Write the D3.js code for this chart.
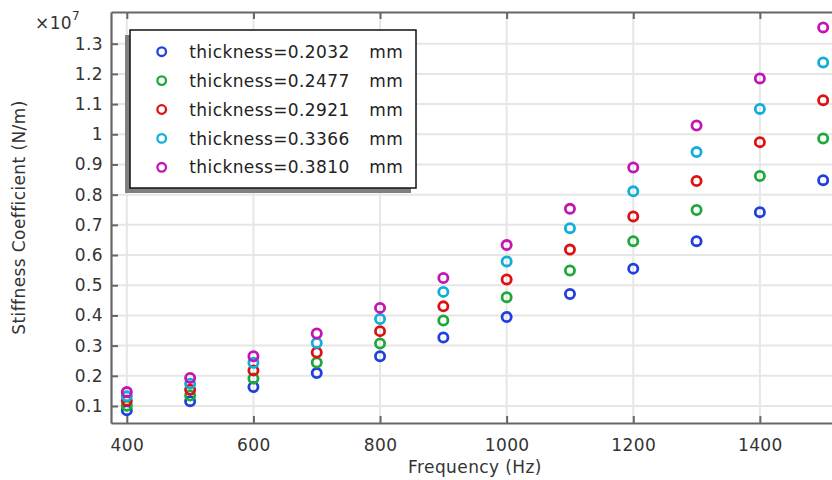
<!DOCTYPE html>
<html>
<head>
<meta charset="utf-8">
<script src="https://cdn.jsdelivr.net/npm/d3@7"></script>
<style>
  html, body { margin: 0; padding: 0; background: #fff; }
  svg { display: block; font-family: "DejaVu Sans", sans-serif; }
  svg text { letter-spacing: 0.4px; }
</style>
</head>
<body>
<svg id="chart" width="832" height="480"></svg>
<script>
// ---- Data (stiffness in units of 10^7 N/m) ----
const frequencies = [400, 500, 600, 700, 800, 900, 1000, 1100, 1200, 1300, 1400, 1500];
const thicknessLabels = ["thickness=0.2032", "thickness=0.2477", "thickness=0.2921", "thickness=0.3366", "thickness=0.3810"];
const unitLabel = "mm";
const stiff_02032 = [0.086, 0.116, 0.163, 0.209, 0.265, 0.327, 0.395, 0.471, 0.555, 0.646, 0.742, 0.848];
const stiff_02477 = [0.101, 0.135, 0.191, 0.244, 0.307, 0.383, 0.460, 0.549, 0.646, 0.749, 0.862, 0.986];
const stiff_02921 = [0.117, 0.154, 0.218, 0.277, 0.348, 0.430, 0.519, 0.618, 0.728, 0.845, 0.974, 1.113];
const stiff_03366 = [0.132, 0.174, 0.243, 0.309, 0.388, 0.478, 0.579, 0.689, 0.811, 0.941, 1.084, 1.238];
const stiff_03810 = [0.146, 0.193, 0.265, 0.340, 0.425, 0.524, 0.633, 0.753, 0.890, 1.029, 1.185, 1.354];
const xTicks = [400, 600, 800, 1000, 1200, 1400];
const yTicks = [0.1, 0.2, 0.3, 0.4, 0.5, 0.6, 0.7, 0.8, 0.9, 1.0, 1.1, 1.2, 1.3];
const colors = ["#1f3fdf", "#1fa83a", "#dd1111", "#10aed8", "#c414b4"];

const series = [stiff_02032, stiff_02477, stiff_02921, stiff_03366, stiff_03810];

// ---- Layout ----
const FS = 17;
const svg = d3.select("#chart");
const L = 111, T = 12, B = 423, R = 839;
const x = d3.scaleLinear().domain([375, 1525]).range([L, R]);
const y = d3.scaleLinear().domain([0.0437, 1.405]).range([B, T]);

const defs = svg.append("defs");
defs.append("clipPath").attr("id", "plotclip")
  .append("rect").attr("x", L).attr("y", T).attr("width", R - L).attr("height", B - T);

// grid
const grid = svg.append("g");
grid.selectAll("line.vx").data(xTicks).join("line")
  .attr("x1", d => x(d)).attr("x2", d => x(d)).attr("y1", T).attr("y2", B)
  .attr("stroke", "#e6e6e6").attr("stroke-width", 2);
grid.selectAll("line.hy").data(yTicks).join("line")
  .attr("x1", L).attr("x2", R).attr("y1", d => y(d)).attr("y2", d => y(d))
  .attr("stroke", "#e6e6e6").attr("stroke-width", 2);

// axes
const fmtY = d => String(+d.toFixed(1));
const xAxis = d3.axisBottom(x).tickValues(xTicks).tickSizeInner(-7).tickSizeOuter(0).tickPadding(16).tickFormat(d3.format("d"));
const xAxisTop = d3.axisTop(x).tickValues(xTicks).tickSizeInner(-7).tickSizeOuter(0).tickFormat("");
const yAxis = d3.axisLeft(y).tickValues(yTicks).tickSizeInner(-7).tickSizeOuter(0).tickPadding(8).tickFormat(fmtY);

function styleAxis(g) {
  g.select(".domain").attr("stroke", "#666").attr("stroke-width", 2.2);
  g.selectAll(".tick line").attr("stroke", "#666").attr("stroke-width", 2);
  g.selectAll(".tick text").attr("fill", "#333").attr("font-size", FS).attr("font-family", "DejaVu Sans, sans-serif");
}
svg.append("g").attr("transform", `translate(0,${B})`).call(xAxis).call(styleAxis);
svg.append("g").attr("transform", `translate(0,${T})`).call(xAxisTop).call(styleAxis);
svg.append("g").attr("transform", `translate(${L},0)`).call(yAxis).call(styleAxis);

// multiplier
const mult = svg.append("text").attr("x", 35).attr("y", 29).attr("fill", "#333").attr("font-size", FS);
mult.append("tspan").text("×10");
mult.append("tspan").attr("dy", -9).attr("font-size", 12).text("7");

// axis titles
svg.append("text").attr("x", 475).attr("y", 473).attr("text-anchor", "middle")
  .attr("fill", "#333").attr("font-size", FS).text("Frequency (Hz)");
svg.append("text").attr("transform", `translate(25,${(T + B) / 2}) rotate(-90)`)
  .attr("text-anchor", "middle").attr("fill", "#333").attr("font-size", FS)
  .text("Stiffness Coefficient (N/m)");

// points
const pts = svg.append("g").attr("clip-path", "url(#plotclip)");
series.forEach((vals, si) => {
  pts.append("g").selectAll("circle").data(vals).join("circle")
    .attr("cx", (d, i) => x(frequencies[i]))
    .attr("cy", d => y(d))
    .attr("r", 4.6)
    .attr("fill", "none")
    .attr("stroke", colors[si])
    .attr("stroke-width", 2.8);
});

// legend
const lg = svg.append("g");
const lx = 130, ly = 30, lw = 286, lh = 158;
lg.append("rect").attr("x", lx - 5).attr("y", ly + 5).attr("width", lw).attr("height", lh).attr("fill", "#808080");
lg.append("rect").attr("x", lx).attr("y", ly).attr("width", lw).attr("height", lh)
  .attr("fill", "#fff").attr("stroke", "#111").attr("stroke-width", 1.5);
thicknessLabels.forEach((lab, i) => {
  const cy = 51.7 + i * 28.9;
  lg.append("circle").attr("cx", 161.7).attr("cy", cy).attr("r", 4.3)
    .attr("fill", "none").attr("stroke", colors[i]).attr("stroke-width", 2.3);
  lg.append("text").attr("x", 189.3).attr("y", cy).attr("dy", "0.36em")
    .attr("fill", "#222").attr("font-size", FS).text(lab);
  lg.append("text").attr("x", 369.3).attr("y", cy).attr("dy", "0.36em")
    .attr("fill", "#222").attr("font-size", FS).text(unitLabel);
});
</script>
</body>
</html>
